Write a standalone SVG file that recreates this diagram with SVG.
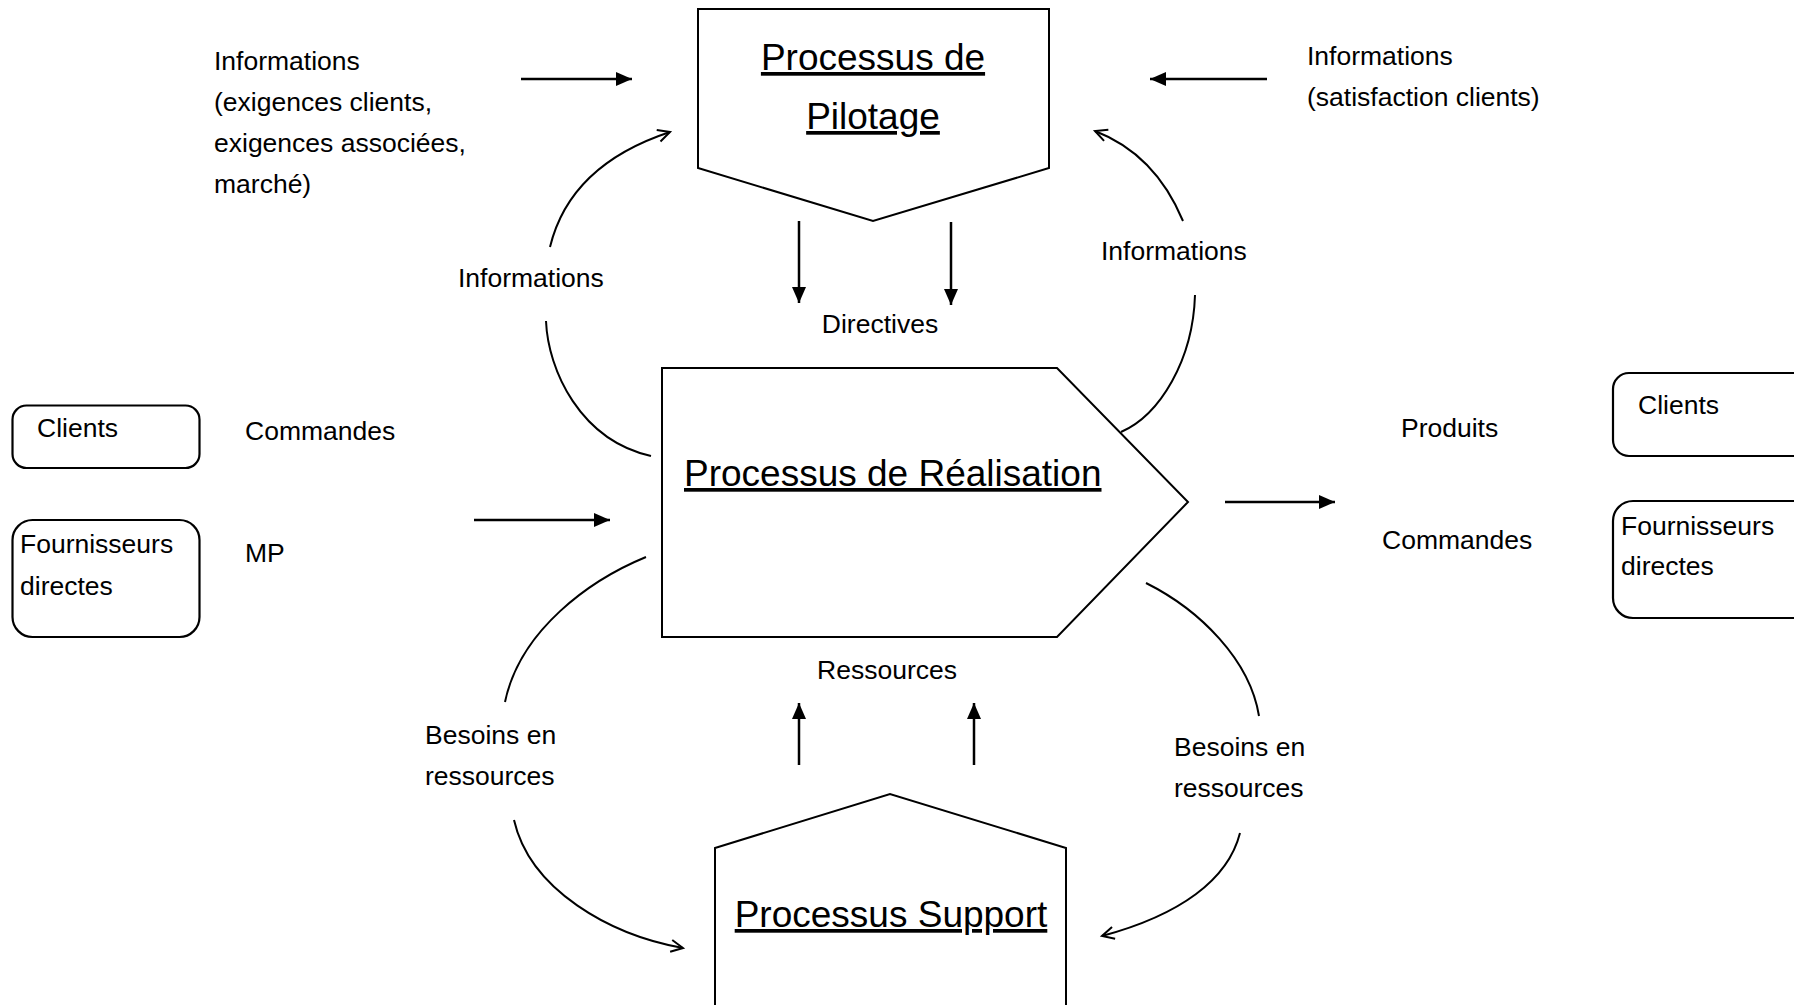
<svg xmlns="http://www.w3.org/2000/svg" width="1794" height="1005" viewBox="0 0 1794 1005">
<style>
.t{font-family:"Liberation Sans",Arial,sans-serif;font-size:26.5px;fill:#000}
.h{font-family:"Liberation Sans",Arial,sans-serif;font-size:37px;fill:#000;text-decoration:underline}
.shape{fill:#fff;stroke:#000;stroke-width:2}
.box{fill:#fff;stroke:#000;stroke-width:2.2}
.ln{fill:none;stroke:#000;stroke-width:2.5}
.cv{fill:none;stroke:#000;stroke-width:2}
</style>
<defs>
<marker id="fa" markerUnits="userSpaceOnUse" markerWidth="16" markerHeight="14" refX="16" refY="7" orient="auto">
<path d="M0,0 L16,7 L0,14 Z" fill="#000"/>
</marker>
<marker id="oa" markerUnits="userSpaceOnUse" markerWidth="16" markerHeight="16" refX="13" refY="7" orient="auto" overflow="visible">
<path d="M1,1 L13,7 L1,13" fill="none" stroke="#000" stroke-width="2"/>
</marker>
</defs>
<rect width="1794" height="1005" fill="#fff"/>

<g id="pilotage">
<polygon class="shape" points="698,9 1049,9 1049,168 873,221 698,168"/>
<text class="h" x="873" y="70" text-anchor="middle">Processus de</text>
<text class="h" x="873" y="129" text-anchor="middle">Pilotage</text>
</g>

<g id="realisation">
<polygon class="shape" points="662,368 1057,368 1188,502 1057,637 662,637"/>
<text class="h" x="684" y="486">Processus de Réalisation</text>
</g>

<g id="support">
<polygon class="shape" points="715,848 890,794 1066,848 1066,1010 715,1010"/>
<text class="h" x="891" y="927" text-anchor="middle">Processus Support</text>
</g>

<g id="clients-left">
<rect class="box" x="12.5" y="405.5" width="187" height="62.5" rx="14" ry="14"/>
<text class="t" x="37" y="437">Clients</text>
</g>
<g id="fournisseurs-left">
<rect class="box" x="12.5" y="520" width="187" height="117" rx="20" ry="20"/>
<text class="t" x="20" y="553">Fournisseurs</text>
<text class="t" x="20" y="595">directes</text>
</g>
<g id="clients-right">
<rect class="box" x="1613" y="373" width="200" height="83" rx="16" ry="16"/>
<text class="t" x="1638" y="414">Clients</text>
</g>
<g id="fournisseurs-right">
<rect class="box" x="1613" y="501" width="200" height="117" rx="20" ry="20"/>
<text class="t" x="1621" y="535">Fournisseurs</text>
<text class="t" x="1621" y="575">directes</text>
</g>

<g id="labels">
<text class="t" x="214" y="70">Informations</text>
<text class="t" x="214" y="111">(exigences clients,</text>
<text class="t" x="214" y="152">exigences associées,</text>
<text class="t" x="214" y="193">marché)</text>
<text class="t" x="1307" y="65">Informations</text>
<text class="t" x="1307" y="106">(satisfaction clients)</text>
<text class="t" x="458" y="287">Informations</text>
<text class="t" x="1101" y="260">Informations</text>
<text class="t" x="880" y="333" text-anchor="middle">Directives</text>
<text class="t" x="245" y="440">Commandes</text>
<text class="t" x="245" y="562">MP</text>
<text class="t" x="1401" y="437">Produits</text>
<text class="t" x="1382" y="549">Commandes</text>
<text class="t" x="887" y="679" text-anchor="middle">Ressources</text>
<text class="t" x="425" y="744">Besoins en</text>
<text class="t" x="425" y="785">ressources</text>
<text class="t" x="1174" y="756">Besoins en</text>
<text class="t" x="1174" y="797">ressources</text>
</g>

<g id="connectors">
<line class="ln" x1="521" y1="79" x2="632" y2="79" marker-end="url(#fa)"/>
<line class="ln" x1="1267" y1="79" x2="1150" y2="79" marker-end="url(#fa)"/>
<line class="ln" x1="799" y1="221" x2="799" y2="303" marker-end="url(#fa)"/>
<line class="ln" x1="951" y1="222" x2="951" y2="305" marker-end="url(#fa)"/>
<line class="ln" x1="474" y1="520" x2="610" y2="520" marker-end="url(#fa)"/>
<line class="ln" x1="1225" y1="502" x2="1335" y2="502" marker-end="url(#fa)"/>
<line class="ln" x1="799" y1="765" x2="799" y2="703" marker-end="url(#fa)"/>
<line class="ln" x1="974" y1="765" x2="974" y2="703" marker-end="url(#fa)"/>
<path class="cv" d="M550,247 Q570,165 670,132" marker-end="url(#oa)"/>
<path class="cv" d="M546,321 C548,370 580,440 651,456"/>
<path class="cv" d="M1183,221 Q1155,154 1095,131" marker-end="url(#oa)"/>
<path class="cv" d="M1195,295 C1193,360 1160,415 1121,432"/>
<path class="cv" d="M646,557 C590,580 520,630 505,702"/>
<path class="cv" d="M514,820 C530,890 610,935 683,948" marker-end="url(#oa)"/>
<path class="cv" d="M1146,583 C1200,610 1250,660 1259,716"/>
<path class="cv" d="M1240,833 C1228,880 1180,915 1102,936" marker-end="url(#oa)"/>
</g>
</svg>
